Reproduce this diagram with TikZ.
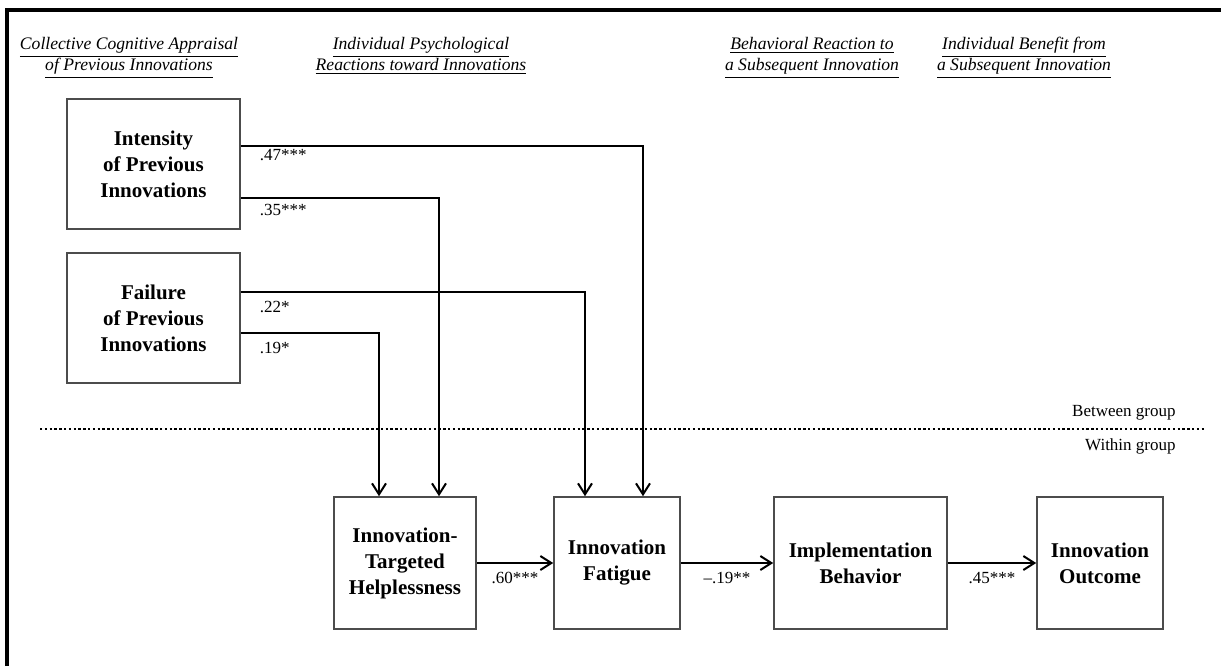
\documentclass[tikz,border=0pt]{standalone}
\usepackage{fontspec}
\setmainfont{Liberation Serif}
\usetikzlibrary{arrows.meta}

\newcommand{\hdline}[1]{\raisebox{0pt}[\height][0pt]{\underline{#1}}}

\tikzset{
  box/.style={draw=black!70,line width=0.8pt,align=center,inner sep=0pt,
    font=\fontsize{10.5}{13}\selectfont\bfseries},
  path/.style={line width=1pt,-{Straight Barb[length=5.5pt,width=7pt]}},
  lbl/.style={font=\fontsize{8.5}{10}\selectfont,inner sep=1pt},
  head/.style={align=center,font=\fontsize{8.8}{10.4}\selectfont\itshape}
}

\begin{document}
\begin{tikzpicture}[x=0.5pt,y=-0.5pt]
            \useasboundingbox (0,0) rectangle (1221,666);
            \draw[line width=1.8pt] (7,666) -- (7,10) -- (1221,10);
            % column headings
            \node[head] (h1) at (129,54) {\hdline{Collective Cognitive Appraisal}\\\hdline{of Previous Innovations}};
            \node[head] (h2) at (421,54) {\hdline{Individual Psychological}\\\hdline{Reactions toward Innovations}};
            \node[head] (h3) at (812,54) {\hdline{Behavioral Reaction to}\\\hdline{a Subsequent Innovation}};
            \node[head] (h4) at (1024,54) {\hdline{Individual Benefit from}\\\hdline{a Subsequent Innovation}};
            % between / within
            \draw[line width=0.6pt,dash pattern=on 1.2pt off 1.2pt] (40,429) -- (1204,429);
            \node[lbl,anchor=east] (btw) at (1178,413) {Between group};
            \node[lbl,anchor=east] (wth) at (1178,446) {Within group};
            % boxes
            \node[box,minimum width=86.5pt,minimum height=65pt] (intens) at (153.5,164) {Intensity\\of Previous\\Innovations};
            \node[box,minimum width=86.5pt,minimum height=65pt] (fail) at (153.5,318) {Failure\\of Previous\\Innovations};
            \node[box,minimum width=71pt,minimum height=66pt] (helpl) at (405,563) {Innovation-\\Targeted\\Helplessness};
            \node[box,minimum width=63pt,minimum height=66pt] (fatig) at (617,563) {Innovation\\Fatigue};
            \node[box,minimum width=86.5pt,minimum height=66pt] (impl) at (860.5,563) {Implementation\\Behavior};
            \node[box,minimum width=63pt,minimum height=66pt] (outc) at (1100,563) {Innovation\\Outcome};
            % paths
            \draw[path] ([yshift=9pt]intens.east) -| ([xshift=13pt]fatig.north) node[lbl,pos=0,anchor=north west,xshift=8pt]{.47***};
            \draw[path] ([yshift=-17pt]intens.east) -| ([xshift=17pt]helpl.north) node[lbl,pos=0,anchor=north west,xshift=8pt,yshift=-1.5pt]{.35***};
            \draw[path] ([yshift=13pt]fail.east) -| ([xshift=-16pt]fatig.north) node[lbl,pos=0,anchor=north west,xshift=8pt,yshift=-3pt]{.22*};
            \draw[path] ([yshift=-7.5pt]fail.east) -| ([xshift=-13pt]helpl.north) node[lbl,pos=0,anchor=north west,xshift=8pt,yshift=-3pt]{.19*};
            \draw[path] (helpl) -- (fatig) node[lbl,midway,below,yshift=-3pt]{.60***};
            \draw[path] (fatig) -- (impl) node[lbl,midway,below,yshift=-3pt]{--.19**};
            \draw[path] (impl) -- (outc) node[lbl,midway,below,yshift=-3pt]{.45***};
          \end{tikzpicture}
\end{document}
